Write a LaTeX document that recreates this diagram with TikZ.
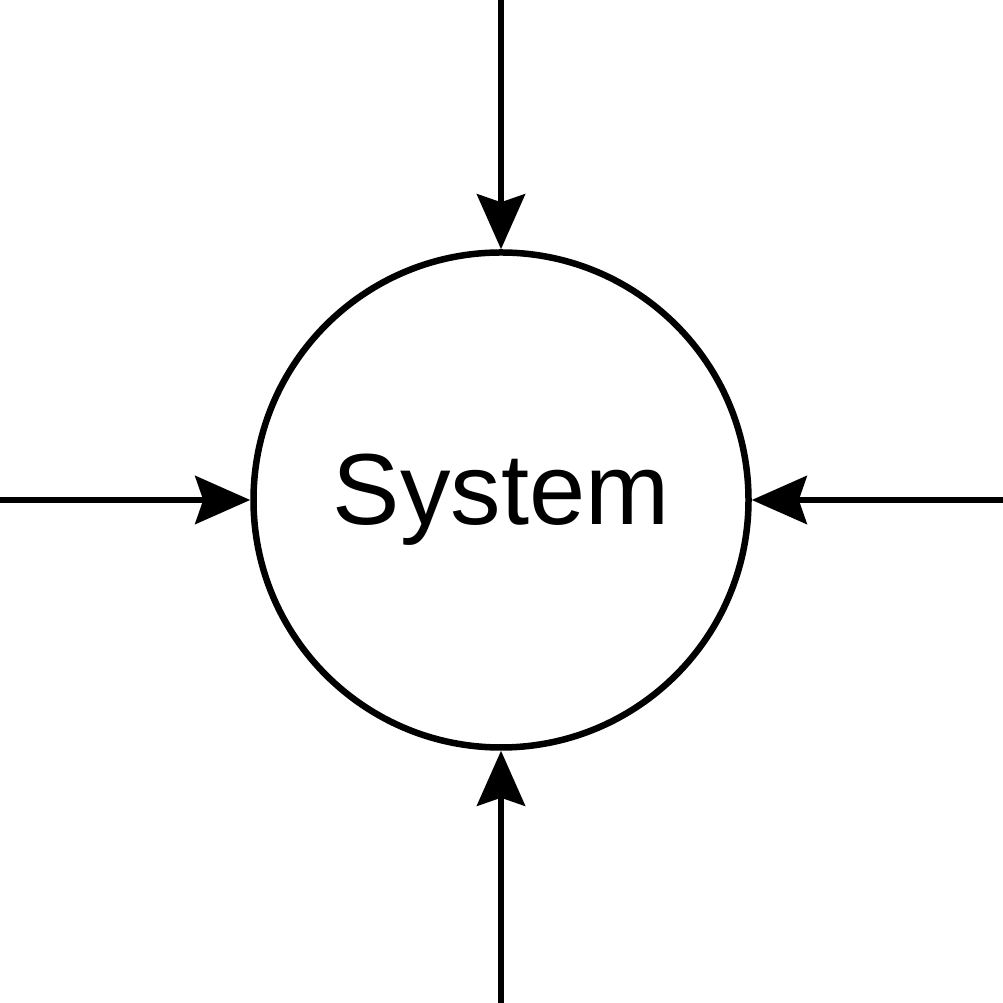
\documentclass[tikz,border=0pt]{standalone}
\usepackage{fontspec}
\setmainfont{Liberation Sans}
\usetikzlibrary{arrows.meta}
\begin{document}
\begin{tikzpicture}[x=1pt,y=1pt,
  sys/.style={circle,draw,line width=6.5pt,minimum size=495pt,inner sep=0pt,
    font=\fontsize{101}{101}\selectfont},
  flow/.style={line width=6.5pt,-{Stealth[length=55pt,width=48pt,inset=8pt]}}]
\useasboundingbox (0,0) rectangle (1003,1003);
\node[sys] (s) at (501,503) {System};
\coordinate (t) at (501,1003);
\coordinate (b) at (501,0);
\coordinate (l) at (0,503);
\coordinate (r) at (1003,503);
\draw[flow] (t) -- (s.north);
\draw[flow] (b) -- (s.south);
\draw[flow] (l) -- (s.west);
\draw[flow] (r) -- (s.east);
\end{tikzpicture}
\end{document}
